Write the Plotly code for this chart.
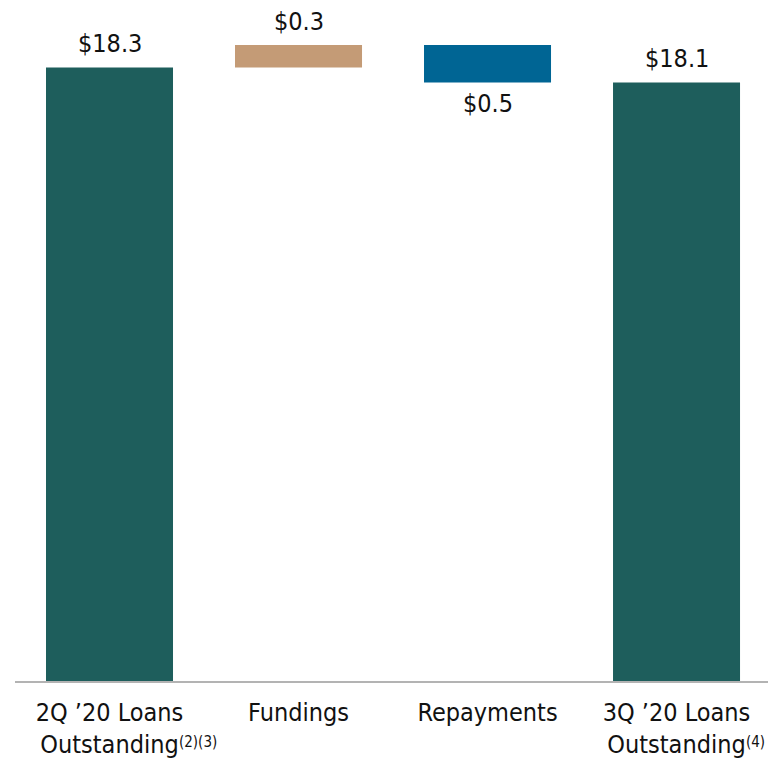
import plotly.graph_objects as go

categories = ["2Q ’20 Loans<br>Outstanding", "Fundings", "Repayments", "3Q ’20 Loans<br>Outstanding"]
measures = ["absolute", "relative", "relative", "total"]
values = [18.3, 0.3, -0.5, 0]
value_labels = ["$18.3", "$0.3", "$0.5", "$18.1"]
footnotes = ["(2)(3)", "", "", "(4)"]

TEAL = "#1E5E5C"
TAN = "#C49B76"
BLUE = "#006594"
FONT = "DejaVu Sans Condensed"
INK = "#111111"

fig = go.Figure(go.Waterfall(
    x=categories,
    measure=measures,
    y=values,
    totals=dict(marker=dict(color=TEAL)),
    increasing=dict(marker=dict(color=TAN)),
    decreasing=dict(marker=dict(color=BLUE)),
    connector=dict(visible=False),
    width=0.672,
    hoverinfo="skip",
))

# value labels placed at the end of each bar (computed from the data)
running = 0.0
for cat, m, v, lab in zip(categories, measures, values, value_labels):
    if m == "absolute":
        running = v
        end, below = running, False
    elif m == "relative":
        running += v
        end, below = running, v < 0
    else:
        end, below = running, False
    fig.add_annotation(
        x=cat, y=end, xref="x", yref="y",
        text=lab, showarrow=False,
        yanchor="top" if below else "bottom",
        yshift=-5 if below else 7,
        font=dict(family=FONT, size=25, color=INK),
    )

for cat, fn in zip(categories, footnotes):
    if fn:
        fig.add_annotation(
            x=cat, y=0, xref="x", yref="paper",
            text=fn, showarrow=False,
            xanchor="left", yanchor="middle",
            xshift=67, yshift=-61,
            font=dict(family=FONT, size=15, color=INK),
        )

fig.update_layout(
    width=768, height=758,
    margin=dict(l=15, r=0, t=0, b=76.5),
    paper_bgcolor="white", plot_bgcolor="white",
    showlegend=False,
    hovermode=False,
    font=dict(family=FONT, size=25, color=INK),
    xaxis=dict(
        range=[-0.5, 3.484],
        showline=True, linecolor="#B3B3B3", linewidth=1.5,
        showgrid=False, ticks="", zeroline=False,
        ticklabelstandoff=8,
        tickfont=dict(family=FONT, size=25, color=INK),
    ),
    yaxis=dict(
        range=[10.113, 19.2],
        visible=False, showgrid=False, zeroline=False,
    ),
)

fig.write_html(
    "out.html",
    config={"displayModeBar": False},
    post_script="document.body.style.margin='0';document.body.style.overflow='hidden';",
)
